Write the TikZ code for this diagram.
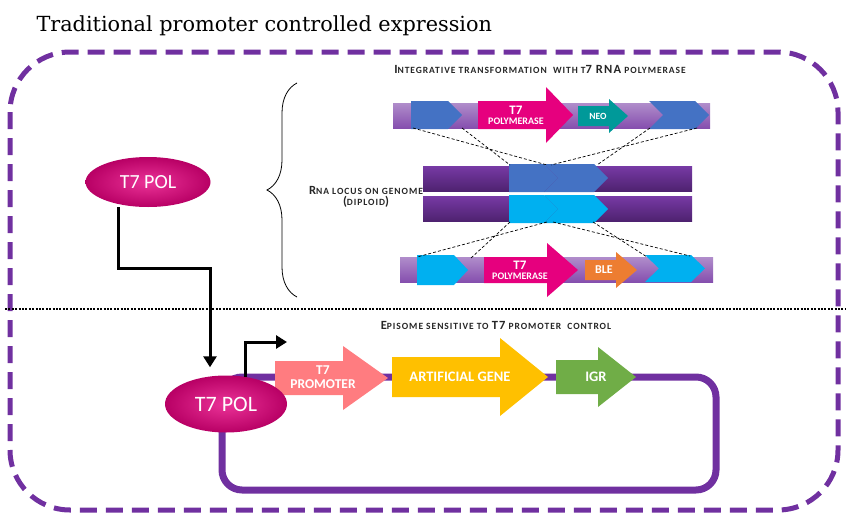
\documentclass[tikz,border=0pt]{standalone}
\usepackage{fontspec}
\setmainfont{Carlito}
\newfontfamily\titlefont{DejaVu Serif}
\newfontfamily\scfont[LetterSpace=10]{Carlito}
\usetikzlibrary{shapes.geometric,arrows.meta,decorations.pathreplacing}

\definecolor{frame}{HTML}{7030A0}
\definecolor{polpink}{HTML}{E6007E}
\definecolor{salmon}{HTML}{FF7C80}
\definecolor{gold}{HTML}{FFC000}
\definecolor{igrgreen}{HTML}{70AD47}
\definecolor{neoteal}{HTML}{009999}
\definecolor{bleorange}{HTML}{ED7D31}
\definecolor{armblue}{HTML}{4472C4}
\definecolor{armcyan}{HTML}{00B0F0}

% block arrow: colour, start x, head base x, tip x, mid y, half body, half head
\newcommand{\blockarrow}[7]{%
  \fill[#1] (#2,{#5-#6}) -- (#3,{#5-#6}) -- (#3,{#5-#7}) -- (#4,#5)
    -- (#3,{#5+#7}) -- (#3,{#5+#6}) -- (#2,{#5+#6}) -- cycle;}
% homology arm, flat left end: colour, x0, x1, top y, bottom y
\newcommand{\homeplate}[5]{%
  \fill[#1] (#2,#4) -- ({#3-14},#4) -- (#3,{(#4+#5)/2}) -- ({#3-14},#5) -- (#2,#5) -- cycle;}
% homology arm, notched left end
\newcommand{\chevron}[5]{%
  \fill[#1] (#2,#4) -- ({#3-14},#4) -- (#3,{(#4+#5)/2}) -- ({#3-14},#5) -- (#2,#5)
    -- ({#2+14},{(#4+#5)/2}) -- cycle;}
\newcommand{\up}[1]{{\fontsize{12.5}{13}\selectfont #1}}

\tikzset{
  pol/.style={ellipse, inner color=polpink!80!white, outer color=polpink!80!black,
    text=white, inner sep=0},
  flow/.style={line width=3, -{Triangle[width=13,length=11]}},
  swap/.style={densely dashed, line width=0.7},
  sclabel/.style={font=\scfont\fontsize{9.5}{12}\selectfont\bfseries, text=black!85},
  onarrow/.style={text=white, font=\bfseries, align=center, inner sep=0},
  construct/.style={top color=frame!55!white, bottom color=frame!85!white},
  genome/.style={top color=frame!95!white, bottom color=frame!70!black}
}

\begin{document}
\begin{tikzpicture}[x=1pt,y=-1pt]
  \useasboundingbox (0,0) rectangle (846,514);

  \node [anchor=base west, font=\titlefont\fontsize{20.8}{24}\selectfont] (title) at (33,31)
    {Traditional promoter controlled expression};
  \draw [frame, line width=5, dash pattern=on 17 off 9, rounded corners=60]
    (10,52) rectangle (838,510);
  \draw [line width=2.2, dash pattern=on 2 off 1.4] (5,309) -- (846,309);

  % donor constructs and diploid locus
  \node [sclabel] (integ) at (540,69)
    {\up{I}NTEGRATIVE TRANSFORMATION\ \ WITH T\up{7 RNA} POLYMERASE};
  \fill [construct] (393,103) rectangle (710,128);
  \homeplate{armblue}{411}{462}{101}{129}
  \chevron{armblue}{649}{709}{101}{129}
  \blockarrow{polpink}{478}{546}{573}{115}{14}{28}
  \blockarrow{neoteal}{578}{609}{628}{116}{10}{17}
  \node [onarrow] (polA) at (516,115)
    {{\fontsize{13}{13}\selectfont T7}\\[-2pt]{\fontsize{10}{10}\selectfont POLYMERASE}};
  \node [onarrow, font=\fontsize{9.5}{9.5}\selectfont\bfseries] (neo) at (598,116) {NEO};

  \fill [genome] (423,166) rectangle (692,191);
  \fill [genome] (423,196) rectangle (692,221);
  \homeplate{armblue}{509}{558}{164}{192}
  \chevron{armblue}{544}{608}{164}{192}
  \homeplate{armcyan}{509}{558}{195}{223}
  \chevron{armcyan}{544}{608}{195}{223}

  \fill [construct] (400,257) rectangle (713,282);
  \homeplate{armcyan}{417}{468}{255}{285}
  \chevron{armcyan}{645}{705}{255}{282}
  \blockarrow{polpink}{484}{547}{578}{270}{13}{27}
  \blockarrow{bleorange}{585}{616}{637}{270}{10}{18}
  \node [onarrow] (polB) at (520,270)
    {{\fontsize{13}{13}\selectfont T7}\\[-2pt]{\fontsize{10}{10}\selectfont POLYMERASE}};
  \node [onarrow, font=\fontsize{12}{12}\selectfont\bfseries] (ble) at (604,270) {BLE};

  % crossover lines
  \coordinate (a1) at (413,128); \coordinate (a2) at (462,128);
  \coordinate (a3) at (650,128); \coordinate (a4) at (697,128);
  \coordinate (b1) at (510,165); \coordinate (b2) at (547,165);
  \coordinate (b3) at (551,165); \coordinate (b4) at (597,165);
  \draw [swap] (a1) -- (b2);
  \draw [swap] (a2) -- (b1);
  \draw [swap] (a3) -- (b4);
  \draw [swap] (a4) -- (b3);
  \coordinate (c1) at (510,222); \coordinate (c2) at (547,222);
  \coordinate (c3) at (553,222); \coordinate (c4) at (593,222);
  \coordinate (d1) at (417,257); \coordinate (d2) at (470,259);
  \coordinate (d3) at (647,257); \coordinate (d4) at (690,256);
  \draw [swap] (c1) -- (d2);
  \draw [swap] (c2) -- (d1);
  \draw [swap] (c3) -- (d4);
  \draw [swap] (c4) -- (d3);

  \coordinate (braceBot) at (297,297);
  \coordinate (braceTop) at (297,83);
  \draw [decorate, decoration={brace, amplitude=30}, line width=0.8] (braceBot) -- (braceTop);
  \node [sclabel, align=center] (locus) at (366,197)
    {\up{R}NA LOCUS ON GENOME\\[-1pt]\up{(}DIPLOID\up{)}};

  \node [pol, minimum width=125, minimum height=50, font=\fontsize{20}{20}\selectfont]
    (pol1) at (148,182) {T7 POL};

  % episome
  \node [sclabel] (episome) at (496,325)
    {\up{E}PISOME SENSITIVE TO \up{T7} PROMOTER\ \ CONTROL};
  \draw [frame, line width=7, rounded corners=20] (222,377) rectangle (716,490);
  \blockarrow{salmon}{275}{343}{388}{378}{17}{32}
  \blockarrow{gold}{392}{500}{548}{377}{20}{39}
  \blockarrow{igrgreen}{556}{598}{636}{377}{17}{30}
  \node [onarrow, font=\fontsize{13.5}{14}\selectfont\bfseries] (prom) at (323,377) {T7\\PROMOTER};
  \node [onarrow, font=\fontsize{14.5}{15}\selectfont\bfseries] (gene) at (460,377) {ARTIFICIAL GENE};
  \node [onarrow, font=\fontsize{14.5}{15}\selectfont\bfseries] (igr) at (596,377) {IGR};

  \node [pol, minimum width=122, minimum height=57, font=\fontsize{22}{22}\selectfont]
    (pol2) at (226,404) {T7 POL};
  \coordinate (jog) at (210,268);
  \draw [flow, shorten >=8] ([xshift=-30]pol1.south) |- (jog) -- (pol2.north -| jog);
  \coordinate (tss) at (245,377);
  \coordinate (tssEnd) at (287,342);
  \draw [flow] (tss) |- (tssEnd);
\end{tikzpicture}
\end{document}
